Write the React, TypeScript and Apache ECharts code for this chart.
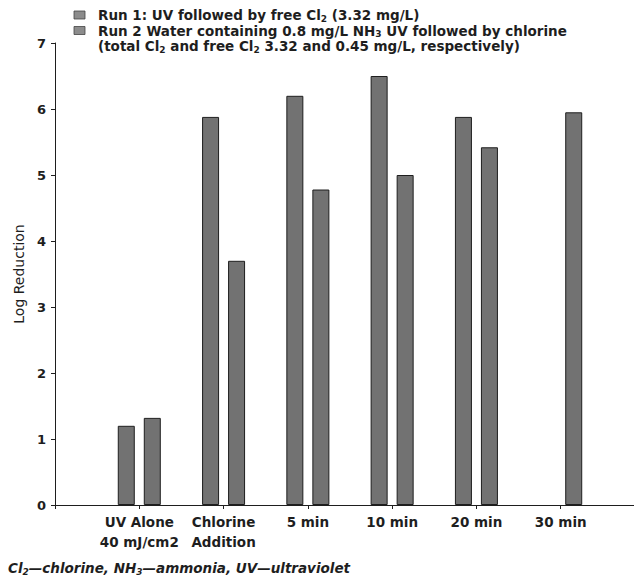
import React, { useEffect, useRef } from 'react';
import * as echarts from 'echarts';

const categories = ['', 'UV Alone\n40 mJ/cm2', 'Chlorine\nAddition', '5 min', '10 min', '20 min', '30 min', ''];
const run1Values: (number | null)[] = [null, 1.2, 5.88, 6.2, 6.5, 5.88, null, null];
const run2Values: (number | null)[] = [null, 1.32, 3.7, 4.78, 5.0, 5.42, 5.95, null];
const run1Name = 'Run 1: UV followed by free Cl2 (3.32 mg/L)';
const run2Name = 'Run 2 Water containing 0.8 mg/L NH3 UV followed by chlorine (total Cl2 and free Cl2 3.32 and 0.45 mg/L, respectively)';
const legendLine1 = 'Run 1: UV followed by free Cl{s|2} (3.32 mg/L)';
const legendLine2 = 'Run 2 Water containing 0.8 mg/L NH{s|3} UV followed by chlorine';
const legendLine3 = '(total Cl{s|2} and free Cl{s|2} 3.32 and 0.45 mg/L, respectively)';
const footnote = 'Cl{s|2}—chlorine, NH{s|3}—ammonia, UV—ultraviolet';
const yAxisName = 'Log Reduction';

const FONT = '"DejaVu Sans", "Liberation Sans", sans-serif';
const BAR = '#727272';
const INK = '#1e1e1e';

function richSub(style: string) {
  return {
    s: {
      fontFamily: FONT,
      fontSize: 9,
      fontWeight: 'bold',
      fontStyle: style,
      lineHeight: 8,
      verticalAlign: 'bottom',
      fill: INK,
      color: INK,
    },
  };
}

function textEl(x: number, y: number, text: string, italic = false) {
  return {
    type: 'text',
    x,
    y,
    style: {
      text,
      fontFamily: FONT,
      fontSize: 13.5,
      fontWeight: 'bold',
      fontStyle: italic ? 'italic' : 'normal',
      lineHeight: 16,
      fill: INK,
      verticalAlign: 'middle',
      align: 'left',
      rich: richSub(italic ? 'italic' : 'normal'),
    },
  };
}

export default function App() {
  const ref = useRef<HTMLDivElement>(null);
  useEffect(() => {
    if (!ref.current) return;
    const chart = echarts.init(ref.current, undefined, { renderer: 'svg' });
    chart.setOption({
      animation: false,
      backgroundColor: '#ffffff',
      grid: { left: 55, right: 1, top: 43, bottom: 80 },
      xAxis: {
        type: 'category',
        data: categories,
        boundaryGap: false,
        axisLine: { show: true, lineStyle: { color: INK, width: 1 } },
        axisTick: { show: true, length: 4, lineStyle: { color: INK } },
        axisLabel: {
          interval: 0,
          margin: 7,
          fontFamily: FONT,
          fontSize: 13.5,
          fontWeight: 'bold',
          color: INK,
          lineHeight: 20,
        },
        splitLine: { show: false },
      },
      yAxis: {
        type: 'value',
        min: 0,
        max: 7,
        interval: 1,
        name: yAxisName,
        nameLocation: 'middle',
        nameRotate: 90,
        nameGap: 27,
        nameTextStyle: { fontFamily: FONT, fontSize: 14, color: INK },
        axisLine: { show: true, lineStyle: { color: INK, width: 1 } },
        axisTick: { show: true, length: 4, lineStyle: { color: INK } },
        axisLabel: { margin: 9, fontFamily: FONT, fontSize: 13, fontWeight: 'bold', color: INK },
        splitLine: { show: false },
      },
      series: [
        {
          name: run1Name,
          type: 'bar',
          data: run1Values,
          barWidth: 17,
          barGap: '53%',
          itemStyle: { color: BAR, borderColor: INK, borderWidth: 1 },
        },
        {
          name: run2Name,
          type: 'bar',
          data: run2Values,
          barWidth: 17,
          barGap: '53%',
          itemStyle: { color: BAR, borderColor: INK, borderWidth: 1 },
        },
      ],
      graphic: [
        { type: 'rect', shape: { x: 74, y: 11, width: 11, height: 8 }, style: { fill: '#8c8c8c', stroke: '#444', lineWidth: 0.8 } },
        { type: 'rect', shape: { x: 74, y: 26.5, width: 11, height: 8 }, style: { fill: '#8c8c8c', stroke: '#444', lineWidth: 0.8 } },
        textEl(98, 15, legendLine1),
        textEl(98, 30.5, legendLine2),
        textEl(98, 46, legendLine3),
        textEl(8, 568, footnote, true),
      ],
    });
    return () => chart.dispose();
  }, []);
  return (
    <div style={{ position: 'absolute', left: 0, top: 0, width: 634, height: 585, overflow: 'hidden', background: '#fff' }}>
      <div ref={ref} style={{ width: 648, height: 585 }} />
    </div>
  );
}
